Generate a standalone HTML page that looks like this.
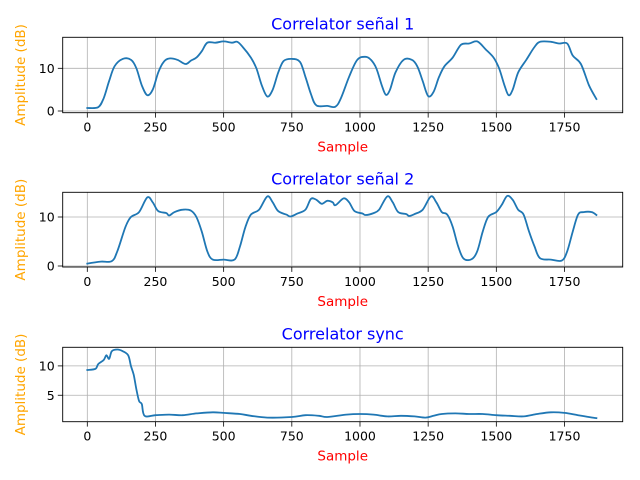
<!DOCTYPE html>
<html><head><meta charset="utf-8"><style>
body{margin:0;background:#fff;}
svg{display:block;font-family:"DejaVu Sans","Liberation Sans",sans-serif;}
</style></head><body>
<svg id="fig" width="640" height="480" viewBox="0 0 640 480"></svg>
<script>
const x1 = [0,40,60,80,100,130,160,180,200,220,240,260,280,300,330,360,380,400,420,440,470,500,530,550,570,600,620,640,660,680,700,720,750,780,800,820,840,880,910,930,960,990,1020,1040,1060,1080,1095,1110,1130,1160,1190,1210,1230,1250,1270,1290,1310,1340,1370,1400,1430,1460,1490,1510,1530,1545,1560,1580,1610,1640,1660,1700,1730,1760,1780,1810,1840,1867];
const y1 = [0.7,0.9,3,7,10.5,12.2,12,10,6,3.7,5,9,11.5,12.3,12,11,11.8,12.5,14,16,16,16.3,16,16.2,15,12.5,10,6,3.4,5,9,11.7,12.2,11.5,8,4,1.3,1.2,1,3,8,12,12.7,12,10,6,3.8,5,9,12,12,10.5,7,3.5,4.5,8,10.5,12.5,15.5,15.8,16.3,14.5,12.5,10,6,3.7,5,9,12,15,16.2,16.2,15.8,15.8,13,11,6,2.8];
const x2 = [0,50,90,110,140,160,190,220,240,260,290,300,320,350,380,400,420,440,460,500,540,560,580,600,630,660,680,700,730,745,770,800,820,840,860,880,900,910,940,960,980,1010,1020,1050,1070,1100,1120,1140,1170,1180,1200,1230,1260,1280,1300,1320,1340,1360,1380,1410,1430,1450,1470,1500,1520,1540,1560,1580,1600,1620,1640,1660,1700,1740,1760,1780,1800,1820,1850,1867];
const y2 = [0.5,0.9,1,3,8,10,11,14,13,11.2,10.8,10.3,11,11.5,11.3,10,7,3,1.3,1.3,1.3,4,8,10.5,11.5,14.2,13,11.2,10.5,10.1,10.7,11.5,13.7,13.5,12.7,13.3,13,12.4,13.8,13,11.2,10.7,10.4,10.8,11.5,14.2,13,11,10.6,10.2,10.6,11.5,14.2,13,11,10.5,8,4,1.5,1.4,3,7,10,11,12.5,14.3,13.5,11.5,10.5,7,4,1.6,1.3,1.1,3,7,10.5,11,11,10.4];
const x3 = [0,30,40,60,70,80,90,110,130,150,160,170,180,190,200,210,250,300,350,400,460,500,560,600,660,750,800,850,880,950,1000,1050,1100,1150,1200,1240,1270,1300,1350,1400,1450,1500,1550,1600,1650,1700,1750,1800,1867];
const y3 = [9.3,9.5,10.3,11,11.8,11.2,12.5,12.8,12.5,11.8,10,8.5,6,4,3.5,1.5,1.6,1.7,1.6,1.9,2.1,2,1.8,1.5,1.2,1.3,1.6,1.5,1.3,1.7,1.8,1.7,1.4,1.5,1.4,1.2,1.5,1.8,1.9,1.8,1.8,1.6,1.5,1.4,1.8,2.1,2,1.6,1.1];
const xTicks = [0,250,500,750,1000,1250,1500,1750];
const titles = ["Correlator señal 1","Correlator señal 2","Correlator sync"];
const yTicks = [[0,10],[0,10],[5,10]];

const NS="http://www.w3.org/2000/svg";
const fig=document.getElementById('fig');
function mk(tag,attrs,parent){const e=document.createElementNS(NS,tag);for(const k in attrs)e.setAttribute(k,attrs[k]);(parent||fig).appendChild(e);return e;}
function smooth(P){
  let d='M'+P[0][0].toFixed(1)+','+P[0][1].toFixed(1);
  for(let i=0;i<P.length-1;i++){
    const p0=P[Math.max(i-1,0)],p1=P[i],p2=P[i+1],p3=P[Math.min(i+2,P.length-1)];
    const c1=[p1[0]+(p2[0]-p0[0])/6,p1[1]+(p2[1]-p0[1])/6];
    const c2=[p2[0]-(p3[0]-p1[0])/6,p2[1]-(p3[1]-p1[1])/6];
    d+=' C'+c1.map(v=>v.toFixed(1)).join(',')+' '+c2.map(v=>v.toFixed(1)).join(',')+' '+p2.map(v=>v.toFixed(1)).join(',');
  }
  return d;
}
const L=62.7,R=622.7;
const sx=v=>87.3+v*(564.5-87.3)/1750;
const panels=[
 {top:37.3,bot:112.7,y0:111,ppu:4.27,xs:x1,ys:y1},
 {top:192.3,bot:267,y0:266,ppu:4.9,xs:x2,ys:y2},
 {top:347.3,bot:421.7,y0:424.6,ppu:5.87,xs:x3,ys:y3}
];
panels.forEach((p,i)=>{
  const g=mk('g',{});
  
  
  const sy=v=>p.y0-v*p.ppu;
  xTicks.forEach(t=>{
    const gl=mk('line',{x1:sx(t),x2:sx(t),y1:p.top,y2:p.bot,stroke:'#b0b0b0','stroke-width':0.8},g);
    
    
    mk('line',{x1:sx(t),x2:sx(t),y1:p.bot,y2:p.bot+4.9,stroke:'#000','stroke-width':0.8},g);
    const tx=mk('text',{x:sx(t),y:p.bot+19,'font-size':12.5,'text-anchor':'middle',fill:'#000'},g);
    tx.textContent=t;
    
    
  });
  yTicks[i].forEach(t=>{
    const gl=mk('line',{x1:L,x2:R,y1:sy(t),y2:sy(t),stroke:'#b0b0b0','stroke-width':0.8},g);
    
    
    mk('line',{x1:L-4.9,x2:L,y1:sy(t),y2:sy(t),stroke:'#000','stroke-width':0.8},g);
    const tx=mk('text',{x:L-8,y:sy(t)+4.5,'font-size':12.5,'text-anchor':'end',fill:'#000'},g);
    tx.textContent=t;
    
    
  });
  const P=p.xs.map((x,k)=>[sx(x),sy(p.ys[k])]);
  const ln=mk('path',{d:smooth(P),fill:'none',stroke:'#1f77b4','stroke-width':1.8,'stroke-linejoin':'round','stroke-linecap':'square'},g);
  
  
  const fr=mk('rect',{x:L,y:p.top,width:R-L,height:p.bot-p.top,fill:'none',stroke:'#000','stroke-width':0.9},g);
  
  
  const ti=mk('text',{x:(L+R)/2,y:p.top-8,'font-size':16,'text-anchor':'middle',fill:'blue'},g);
  ti.textContent=titles[i];
  
  
  const xl=mk('text',{x:(L+R)/2,y:p.bot+39,'font-size':13.5,'text-anchor':'middle',fill:'red'},g);
  xl.textContent='Sample';
  
  
  const cy=(p.top+p.bot)/2;
  const yl=mk('text',{x:25,y:cy,'font-size':13.5,'text-anchor':'middle',fill:'orange',transform:'rotate(-90 25 '+cy+')'},g);
  yl.textContent='Amplitude (dB)';
  
  
});
</script>
</body></html>
